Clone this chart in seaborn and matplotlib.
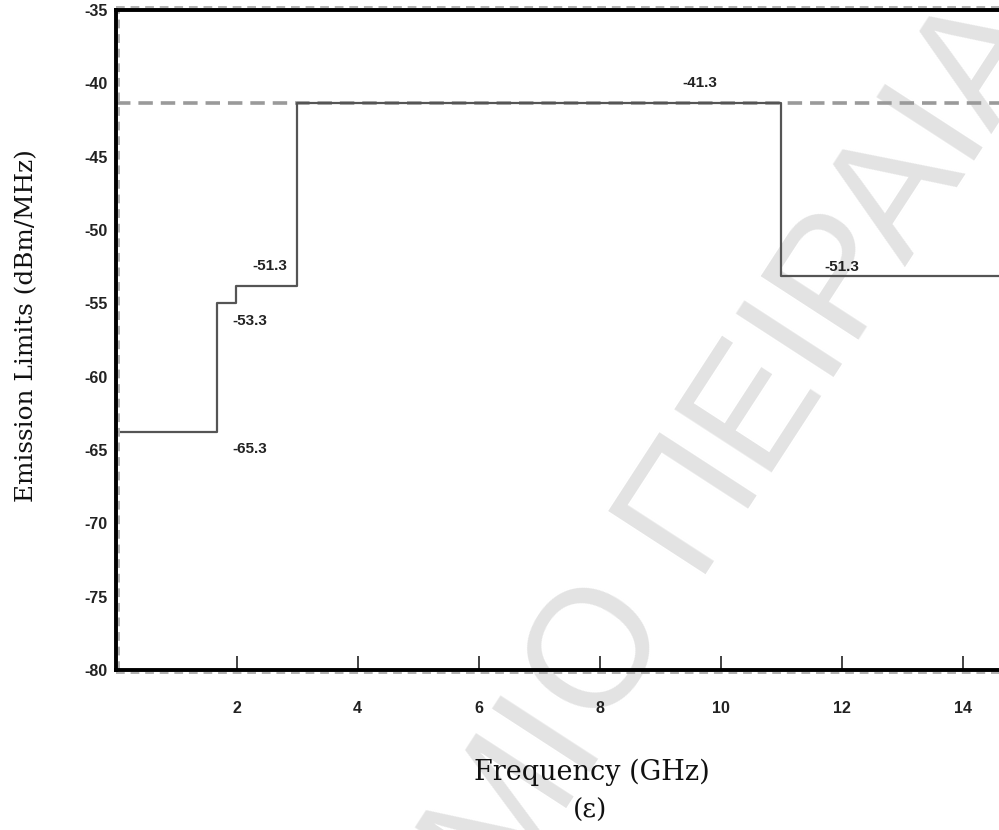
import matplotlib
matplotlib.use("Agg")
import matplotlib.pyplot as plt
import matplotlib.transforms as mtrans
import seaborn as sns
import pandas as pd

# ---- data ----
freq_edges = [0.0, 1.67, 1.99, 3.0, 11.0, 14.6]          # GHz (step starts)
limit_vals = [-63.75, -55.0, -53.8, -41.3, -53.1, -53.1]  # dBm/MHz
ref_x = [0.0, 14.6]
ref_y = [-41.3, -41.3]
ann_text = ["-41.3", "-51.3", "-51.3", "-53.3", "-65.3"]
ann_x = [9.65, 12.0, 2.55, 2.22, 2.22]
ann_y = [-40.0, -52.5, -52.45, -56.2, -64.9]
xticks = [2, 4, 6, 8, 10, 12, 14]
yticks = [-80, -75, -70, -65, -60, -55, -50, -45, -40, -35]

sns.set_style("white")
plt.rcParams['font.family'] = ['Liberation Sans', 'DejaVu Sans']
plt.rcParams['axes.unicode_minus'] = False

fig = plt.figure(figsize=(9.99, 8.30), dpi=100)
ax = fig.add_axes([0.1157, 0.1928, 0.8843, 0.795])

# watermark (drawn behind the data lines)
wm_kw = dict(rotation=57, rotation_mode='anchor', va='baseline', fontsize=121,
             color='#e3e3e3', zorder=0.5, clip_on=False, transform=fig.transFigure,
             family=['Liberation Sans'])
ax.text(0.6025, 0.1154, "ΠΑΝΕΠΙΣΤΗΜΙ", ha='right', **wm_kw)
ax.text(0.6025, 0.1154, "Ο ΠΕΙΡΑΙΑ", ha='left', **wm_kw)

df_ref = pd.DataFrame({"f": ref_x, "v": ref_y})
sns.lineplot(data=df_ref, x="f", y="v", ax=ax, color="#9a9a9a", lw=2.6,
             linestyle=(0, (4, 2.2)), estimator=None, zorder=2)

df = pd.DataFrame({"f": freq_edges, "v": limit_vals})
sns.lineplot(data=df, x="f", y="v", ax=ax, color="#555555", lw=1.6,
             drawstyle="steps-post", estimator=None, zorder=3)

for t, x, y in zip(ann_text, ann_x, ann_y):
    ax.text(x, y, t, ha='center', va='center', fontsize=11, fontweight='bold',
            color='#222222')

ax.set_xlim(0, 14.6)
ax.set_ylim(-80, -35)
ax.set_xticks(xticks)
ax.set_yticks(yticks)
ax.tick_params(axis='x', bottom=True, direction='in', length=10, width=1.2, pad=22,
               labelsize=11.5, colors='#222222')
ax.tick_params(axis='y', left=False, length=0, pad=6, labelsize=11.5, colors='#222222')
for lab in ax.get_xticklabels() + ax.get_yticklabels():
    lab.set_fontweight('bold')

for s in ['left', 'bottom', 'top']:
    ax.spines[s].set_visible(True)
    ax.spines[s].set_color('black')
    ax.spines[s].set_linewidth(2.8)
    ax.spines[s].set_zorder(4)
ax.spines['right'].set_visible(False)

# faint dashed shadow along the frame
sh_kw = dict(color='#b0b0b0', lw=1.4, linestyle=(0, (4.5, 3)), zorder=3.5, clip_on=False)
ax.plot([0, 0], [-80, -35], transform=mtrans.offset_copy(ax.transData, fig, x=3, y=0, units='dots'), **sh_kw)
ax.plot([0, 14.6], [-80, -80], transform=mtrans.offset_copy(ax.transData, fig, x=0, y=-3, units='dots'), **sh_kw)
ax.plot([0, 14.6], [-35, -35], transform=mtrans.offset_copy(ax.transData, fig, x=0, y=3, units='dots'), **sh_kw)

ax.set_xlabel("")
ax.set_ylabel("")
fig.text(0.027, 1 - 326 / 830, "Emission Limits (dBm/MHz)", rotation=90, ha='center',
         va='center', fontsize=17.8, family=['DejaVu Serif'], color='#111111')
fig.text(592 / 999, 1 - 772 / 830, "Frequency (GHz)", ha='center', va='center',
         fontsize=19.5, family=['DejaVu Serif'], color='#111111')
fig.text(590 / 999, 1 - 810 / 830, "(ε)", ha='center', va='center',
         fontsize=19, family=['DejaVu Serif'], color='#111111')

fig.savefig("out.png", dpi=100, facecolor='white')
